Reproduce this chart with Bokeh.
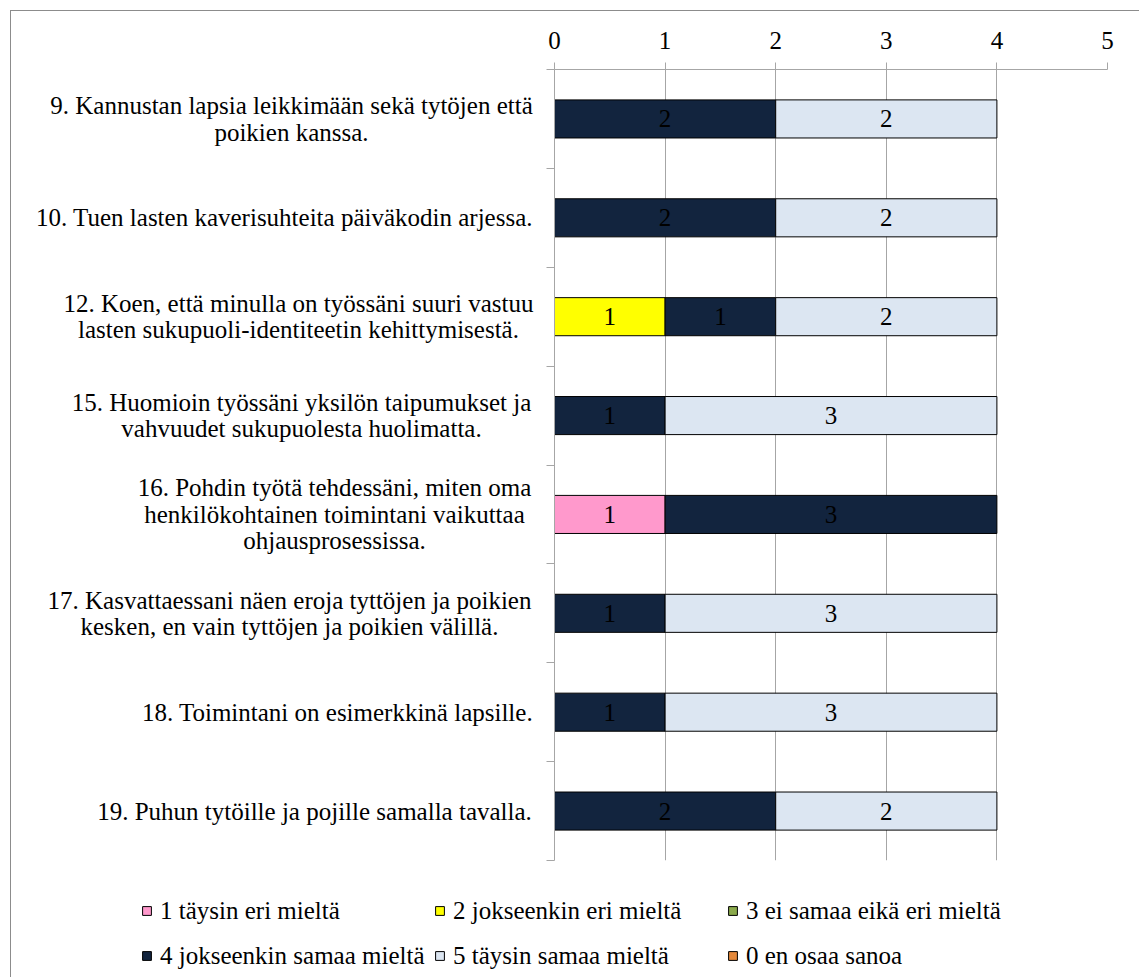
import numpy as np
from bokeh.plotting import figure
from bokeh.layouts import column, row
from bokeh.models import ColumnDataSource, Range1d, FixedTicker, Legend, LegendItem
from bokeh.core.properties import value
from bokeh.embed import file_html
from bokeh.resources import INLINE

categories = [
    "9. Kannustan lapsia leikkimään sekä tytöjen että\npoikien kanssa.",
    "10. Tuen lasten kaverisuhteita päiväkodin arjessa.",
    "12. Koen, että minulla on työssäni suuri vastuu\nlasten sukupuoli-identiteetin kehittymisestä.",
    "15. Huomioin työssäni yksilön taipumukset ja\nvahvuudet sukupuolesta huolimatta.",
    "16. Pohdin työtä tehdessäni, miten oma\nhenkilökohtainen toimintani vaikuttaa\nohjausprosessissa.",
    "17. Kasvattaessani näen eroja tyttöjen ja poikien\nkesken, en vain tyttöjen ja poikien välillä.",
    "18. Toimintani on esimerkkinä lapsille.",
    "19. Puhun tytöille ja pojille samalla tavalla.",
]
series_names = [
    "1 täysin eri mieltä",
    "2 jokseenkin eri mieltä",
    "3 ei samaa eikä eri mieltä",
    "4 jokseenkin samaa mieltä",
    "5 täysin samaa mieltä",
    "0 en osaa sanoa",
]
s1 = [0, 0, 0, 0, 1, 0, 0, 0]
s2 = [0, 0, 1, 0, 0, 0, 0, 0]
s3 = [0, 0, 0, 0, 0, 0, 0, 0]
s4 = [2, 2, 1, 1, 3, 1, 1, 2]
s5 = [2, 2, 2, 3, 0, 3, 3, 2]
s0 = [0, 0, 0, 0, 0, 0, 0, 0]
series_values = [s1, s2, s3, s4, s5, s0]
x_ticks = [0, 1, 2, 3, 4, 5]

# styles
colors = ["#FF99CC", "#FFFF00", "#8BAA4C", "#12243E", "#DCE6F2", "#E4883A"]
label_center_offsets = [263, 270, 256, 253, 220, 265, 217, 240]  # px left of x=0
FONT = "Liberation Serif"
FS = "25px"
GRID = "#A6A6A6"

n = len(categories)
ys = np.arange(n) + 0.5
y_range = Range1d(n, 0)

LABEL_W = 534
MAIN_W = 594
TOP_H = 859


def clean(fig):
    fig.outline_line_color = None
    fig.background_fill_color = "white"
    fig.border_fill_color = "white"


# ---- main chart ----
p = figure(width=MAIN_W, height=TOP_H, output_backend="svg", toolbar_location=None,
           x_range=Range1d(0, 5), y_range=y_range, x_axis_location="above",
           min_border_left=9, min_border_right=32, min_border_top=58, min_border_bottom=10)
clean(p)

xa = p.xaxis[0]
xa.ticker = FixedTicker(ticks=x_ticks)
xa.major_label_text_font = FONT
xa.major_label_text_font_size = FS
xa.major_label_text_color = "black"
xa.major_tick_in = 0
xa.major_tick_out = 7
xa.minor_tick_line_color = None
xa.major_tick_line_color = GRID
xa.axis_line_color = GRID
xa.major_label_standoff = 14

ya = p.yaxis[0]
ya.ticker = FixedTicker(ticks=list(range(n + 1)))
ya.major_label_overrides = {i: "" for i in range(n + 1)}
ya.major_label_standoff = 0
ya.major_tick_in = 0
ya.major_tick_out = 8
ya.minor_tick_line_color = None
ya.major_tick_line_color = GRID
ya.axis_line_color = GRID

p.xgrid.grid_line_color = GRID
p.xgrid.ticker = FixedTicker(ticks=x_ticks)
p.ygrid.grid_line_color = None

cum = np.zeros(n)
for name, vals, col in zip(series_names, series_values, colors):
    v = np.array(vals, dtype=float)
    left = cum.copy()
    right = cum + v
    mask = v > 0
    src = ColumnDataSource(dict(
        y=ys[mask], left=left[mask], right=right[mask],
        mid=(left[mask] + right[mask]) / 2, lab=[str(int(x)) for x in v[mask]]))
    p.hbar(y="y", left="left", right="right", height=0.385, source=src,
           fill_color=col, line_color="black", line_width=1)
    p.text(x="mid", y="y", text="lab", source=src, text_align="center",
           text_baseline="middle", text_font=value(FONT), text_font_size=FS,
           text_color="black")
    cum = right

# ---- category labels (own figure sharing the y range) ----
pl = figure(width=LABEL_W, height=TOP_H, output_backend="svg", toolbar_location=None,
            x_range=Range1d(-LABEL_W, 0), y_range=y_range,
            min_border_left=0, min_border_right=0, min_border_top=58, min_border_bottom=10)
clean(pl)
pl.axis.visible = False
pl.grid.grid_line_color = None
lab_src = ColumnDataSource(dict(x=np.zeros(n), y=ys, text=categories,
                                off=[-(o - 9) for o in label_center_offsets]))
pl.text(x="x", y="y", text="text", x_offset="off", source=lab_src,
        text_align="center", text_baseline="middle", text_font=value(FONT),
        text_font_size=FS, text_color="black", text_line_height=0.98)

# ---- legend (own figure) ----
LEG_W = LABEL_W + MAIN_W
LEG_H = 107
pg = figure(width=LEG_W, height=LEG_H, output_backend="svg", toolbar_location=None,
            x_range=Range1d(0, LEG_W), y_range=Range1d(0, LEG_H),
            min_border_left=0, min_border_right=0, min_border_top=0, min_border_bottom=0)
clean(pg)
pg.axis.visible = False
pg.grid.grid_line_color = None
items = []
for name, col in zip(series_names, colors):
    # proxy renderer: one undrawable (NaN) bar so the legend swatch is painted
    r = pg.hbar(y=[np.nan], left=[np.nan], right=[np.nan], height=0.5, fill_color=col,
                line_color="black", line_width=1)
    items.append(LegendItem(label=name, renderers=[r]))
legend = Legend(items=items, orientation="horizontal", nrows=2,
                location=(130, 3),
                label_text_font=FONT, label_text_font_size=FS, label_text_color="black",
                label_height=37, label_width=266,
                label_standoff=8, glyph_width=11, glyph_height=11,
                spacing=8, padding=0, margin=0,
                border_line_color=None, background_fill_alpha=0)
pg.add_layout(legend, "center")

layout = column(row(pl, p), pg,
                styles={"margin-left": "10px", "margin-top": "10px",
                        "border-left": "1px solid #8C8C8C",
                        "border-top": "1px solid #8C8C8C"})

open("out.html", "w").write(file_html(layout, INLINE))
